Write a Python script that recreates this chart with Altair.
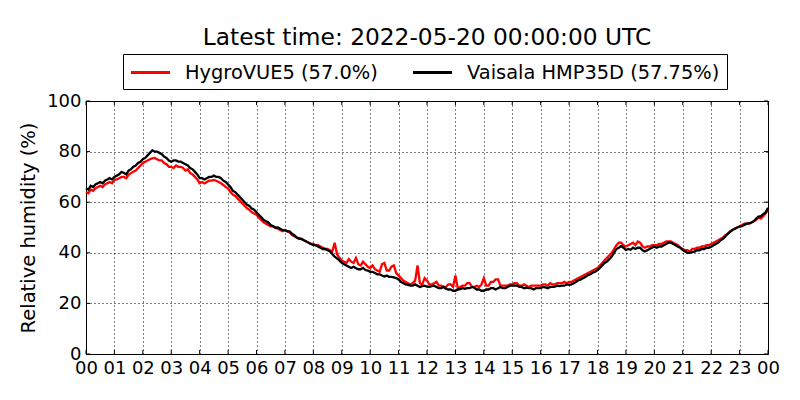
import altair as alt
import pandas as pd

# 5-minute readings, one row per hour, 00:00 .. 24:00
vaisala = [
    65.5, 65, 66.5, 66, 67, 67.5, 68, 67.5, 68.5, 69, 69.5, 69,
    70, 70.5, 71, 72, 71.5, 71, 72.5, 73, 74, 74.5, 75.5, 76,
    77, 77.5, 78.5, 79.5, 80.5, 80, 80, 79.5, 79, 78, 77.5, 76.5,
    76, 76.5, 76.5, 76, 76, 75.5, 75, 74.5, 73.5, 73, 72, 71,
    69.5, 69.5, 69, 69.5, 70, 70, 70.5, 70, 70, 69.5, 68.5, 68,
    67, 66, 64.5, 64, 63, 62, 61, 60, 59, 58.5, 57.5, 57,
    56, 55, 54, 53, 52.5, 52, 51, 50.5, 50, 50, 49.5, 49,
    49, 48.5, 48.5, 47.5, 47, 46, 45.5, 45.5, 45, 44.5, 44, 43.5,
    43, 43, 42.5, 42, 41.5, 41.5, 41, 40.5, 39.5, 38.5, 37.8, 37,
    36, 35.5, 35, 34.5, 34, 34.5, 33.9, 33.5, 33.5, 34, 33.2, 33,
    32.5, 32.5, 32, 31.5, 31.5, 31, 30.6, 31, 30.5, 30.5, 30.3, 30,
    29.5, 28.5, 28, 27.5, 27.3, 27, 27, 27.5, 27, 26.5, 26.8, 27,
    26.6, 26.5, 26.8, 27, 26.5, 26, 26, 26.5, 25.8, 25.5, 25.5, 25,
    25, 25.5, 25.6, 26, 25.8, 26, 26, 26.5, 26.2, 25.5, 25.5, 25,
    25, 25.5, 25.5, 26, 26, 25.5, 26, 26.5, 26, 26, 26.5, 27,
    27, 27, 27, 26.5, 26.5, 26, 26.2, 26, 26, 25.5, 26, 26,
    26, 26.5, 26.3, 26, 26.5, 26.5, 26.6, 27, 26.8, 27, 27, 27.5,
    27.3, 27.5, 28, 28.5, 29.2, 29.5, 30, 30.5, 31.2, 31.5, 32.2, 32.5,
    33.2, 34, 35, 36, 36.5, 37.5, 38.5, 40, 41.5, 42, 42.7, 42,
    41.1, 41.5, 41.2, 42, 41.5, 42, 42, 41, 40.5, 41, 41.5, 42,
    42.4, 42, 42.5, 42.5, 43, 43.5, 44, 44, 43.5, 43, 42.4, 42,
    41.1, 40.5, 40, 40, 40.3, 40.5, 41, 41, 41.5, 41.5, 42, 42,
    42.4, 43, 43.5, 44, 45, 45.5, 46.5, 47.5, 48.3, 49, 49.5, 50,
    50.3, 50.5, 51, 51.5, 51.6, 52, 52.5, 53.5, 54.3, 54.5, 55.3, 56,
    57.75,
]
hygrovue = [
    64, 63.5, 65, 64.5, 65.5, 66, 66.5, 66, 67, 67.5, 68, 67.5,
    68.8, 69, 69.5, 70, 70, 69.5, 70.8, 71.5, 72, 72.5, 73.5, 74.5,
    75.4, 76, 76.5, 77, 77.3, 77.5, 77, 76.5, 76.5, 75.5, 75, 74,
    74, 73.5, 74.5, 74, 74, 73.5, 72.5, 73, 71.5, 71, 70, 69,
    67.5, 68, 67.4, 68, 68.5, 68.5, 68.8, 68.5, 68, 67.5, 66.8, 66,
    65.5, 64, 63, 62.5, 61.5, 60.5, 59.5, 58.5, 57.6, 57, 56, 55.5,
    55, 54, 53, 52, 51.5, 51, 50.5, 50.5, 49.8, 49.5, 49, 48.5,
    49, 48.5, 48, 47, 46.5, 46, 45.8, 45.5, 45, 44.5, 44, 43.5,
    43.5, 43, 43, 42.5, 42, 41.5, 41.5, 41, 40.5, 44, 39.5, 38,
    37, 36.5, 36, 37.5, 36.5, 36, 38, 35.5, 35, 36.5, 35.5, 34.5,
    34, 35, 33.5, 33, 32.5, 35.5, 36, 33, 33, 34.5, 35, 32,
    31, 30, 29, 28.5, 28, 27.5, 28, 29, 35, 28, 27.5, 30,
    29, 27.5, 27.5, 28, 28.5, 27, 27, 26.5, 26.5, 27.5, 27.5, 26.5,
    31, 26, 26.5, 27, 27, 28, 28, 26.5, 26.5, 27, 26.5, 27.5,
    30, 27, 27, 28.5, 28.5, 29.5, 29.5, 27, 27, 27, 27, 27.5,
    27.5, 28, 28, 27, 27, 27.5, 27, 26.5, 27, 27, 27, 27,
    27, 27.5, 27.5, 27, 28, 27.5, 27.5, 28, 28, 28, 28.5, 28,
    28.5, 28.5, 29, 29.5, 30, 30.5, 31, 31.5, 32, 32.5, 33, 33.5,
    34, 35, 36, 37, 38, 39, 40, 41.5, 43, 44, 44, 43,
    42.5, 43, 43.5, 44, 43, 44.5, 44, 42.5, 42, 42.5, 42.5, 43,
    43, 43, 43.5, 43.5, 44, 44.5, 44.5, 44.5, 44, 43.5, 43, 42,
    41.5, 41, 41, 40.5, 41.5, 41.5, 42, 42, 42.5, 42.5, 43, 43,
    43.5, 44, 44.5, 45, 45.5, 46, 47, 47.5, 48.5, 49, 49.5, 50,
    50.5, 51, 51.5, 51.5, 51.5, 52, 52.5, 53, 54, 53.5, 54.5, 55.5,
    57,
]
series_names = ["HygroVUE5 (57.0%)", "Vaisala HMP35D (57.75%)"]
series_colors = ["#ff0000", "#000000"]
hour_ticks = list(range(0, 25))
y_ticks = [0, 20, 40, 60, 80, 100]

rows = []
for name, vals in zip(series_names, [hygrovue, vaisala]):
    for i, v in enumerate(vals):
        rows.append({"hour": i / 12.0, "rh": v, "series": name, "order": i})
df = pd.DataFrame(rows)

FONT = "DejaVu Sans"

xscale = alt.Scale(domain=[0, 24], nice=False, zero=False)
yscale = alt.Scale(domain=[0, 100], nice=False)
xaxis = alt.Axis(values=hour_ticks, title=None,
                 labelExpr="(datum.value % 24 < 10 ? '0' : '') + (datum.value % 24)",
                 labelOverlap=False, labelFlush=False, labelBound=False)
yaxis = alt.Axis(values=y_ticks, title="Relative humidity (%)", labelOverlap=False)

lines = alt.Chart(df).mark_line(strokeWidth=2.3, interpolate="linear").encode(
    x=alt.X("hour:Q", scale=xscale, axis=xaxis),
    y=alt.Y("rh:Q", scale=yscale, axis=yaxis),
    color=alt.Color("series:N",
                    scale=alt.Scale(domain=series_names, range=series_colors),
                    sort=series_names,
                    legend=alt.Legend(title=None, orient="none", legendX=37, legendY=-47,
                                      direction="horizontal", symbolType="M-2,0H2",
                                      symbolSize=380, symbolStrokeWidth=3, symbolOffset=9,
                                      labelFontSize=19.4, labelFont=FONT, labelLimit=400,
                                      labelColor="black",
                                      strokeColor="black", fillColor="white",
                                      padding=7, columnPadding=29, labelOffset=23,
                                      cornerRadius=0)),
    order="order:Q",
)

# inward tick marks on all four sides (matplotlib classic style)
xt = pd.DataFrame({"hour": hour_ticks})
yt = pd.DataFrame({"rh": y_ticks})
tick_b = alt.Chart(xt).mark_rule(color="black", strokeWidth=1).encode(
    x=alt.X("hour:Q", scale=xscale, axis=xaxis), y=alt.value(253), y2=alt.value(249))
tick_t = alt.Chart(xt).mark_rule(color="black", strokeWidth=1).encode(
    x=alt.X("hour:Q", scale=xscale, axis=xaxis), y=alt.value(0), y2=alt.value(4))
tick_l = alt.Chart(yt).mark_rule(color="black", strokeWidth=1).encode(
    y=alt.Y("rh:Q", scale=yscale, axis=yaxis), x=alt.value(0), x2=alt.value(4))
tick_r = alt.Chart(yt).mark_rule(color="black", strokeWidth=1).encode(
    y=alt.Y("rh:Q", scale=yscale, axis=yaxis), x=alt.value(682), x2=alt.value(678))

chart = alt.layer(lines, tick_b, tick_t, tick_l, tick_r).properties(
    width=682, height=253,
    background="white",
    title=alt.TitleParams("Latest time: 2022-05-20 00:00:00 UTC", fontSize=23.3,
                          font=FONT, fontWeight="normal", anchor="middle",
                          baseline="alphabetic", offset=-15, color="black"),
    autosize=alt.AutoSizeParams(type="none"),
    padding={"left": 78, "top": 93, "right": 24, "bottom": 38},
).configure_view(
    stroke="black", strokeWidth=1
).configure_axis(
    labelFont=FONT, titleFont=FONT, labelFontSize=18, titleFontSize=19.5,
    titleFontWeight="normal", labelColor="black", titleColor="black",
    grid=True, gridColor="black", gridDash=[1, 3], gridOpacity=1, gridWidth=1,
    domain=False, tickSize=0, labelPadding=5, titlePadding=8,
)

chart.save("out.html", embed_options={"renderer": "svg", "actions": False})
